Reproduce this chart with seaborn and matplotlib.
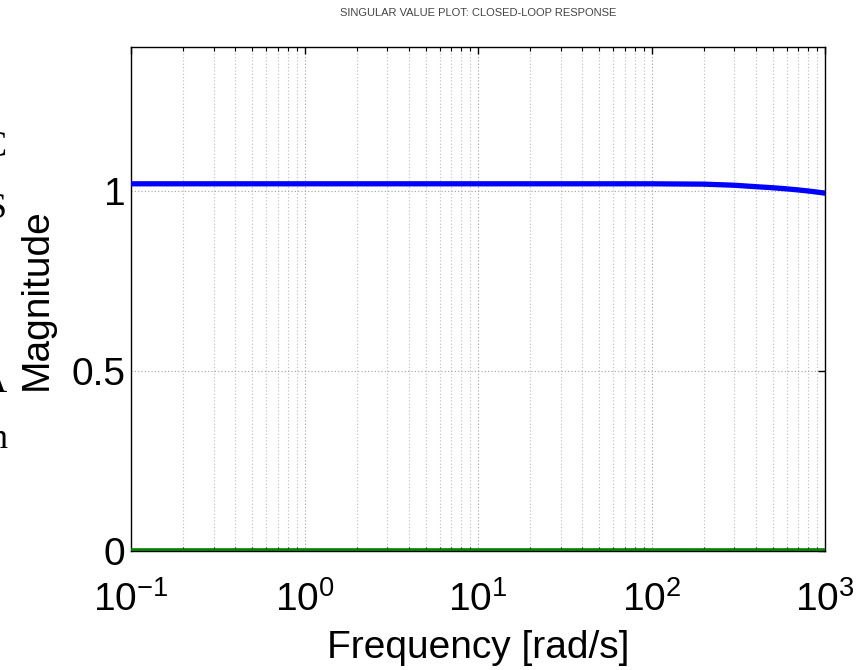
import numpy as np
import pandas as pd
import matplotlib
matplotlib.use("Agg")
import matplotlib.pyplot as plt
import matplotlib.ticker as mticker
import seaborn as sns

# ---- data ----
freq_sv1 = [0.1, 1, 10, 100, 200, 300, 400, 500, 600, 700, 800, 900, 1000]
mag_sv1 = [1.02, 1.02, 1.02, 1.02, 1.019, 1.016, 1.012, 1.009, 1.006, 1.003, 1.0, 0.997, 0.994]
freq_sv2 = [0.1, 1, 10, 100, 1000]
mag_sv2 = [0.004, 0.004, 0.004, 0.004, 0.004]
x_ticks = [0.1, 1, 10, 100, 1000]
y_ticks = [0, 0.5, 1]
y_tick_labels = ["0", "0.5", "1"]
title_text = "SINGULAR VALUE PLOT: CLOSED-LOOP RESPONSE"
x_label = "Frequency [rad/s]"
y_label = "Magnitude"
side_fragments = ["C", "S", "A", "n"]

sns.set_style("white")
plt.rcParams["font.family"] = ["Liberation Sans", "DejaVu Sans"]
plt.rcParams["mathtext.fontset"] = "custom"
plt.rcParams["mathtext.rm"] = "Liberation Sans"
plt.rcParams["mathtext.it"] = "Liberation Sans"
plt.rcParams["mathtext.default"] = "regular"
plt.rcParams["text.color"] = "black"
plt.rcParams["axes.labelcolor"] = "black"
plt.rcParams["xtick.color"] = "black"
plt.rcParams["ytick.color"] = "black"

fig = plt.figure(figsize=(8.68, 6.70), dpi=100)
ax = fig.add_axes([131 / 868, 1 - 551 / 670, (825 - 131) / 868, (551 - 47) / 670])

df1 = pd.DataFrame({"f": freq_sv1, "m": mag_sv1})
df2 = pd.DataFrame({"f": freq_sv2, "m": mag_sv2})
sns.lineplot(data=df1, x="f", y="m", ax=ax, color="#0000ff", linewidth=3.8, estimator=None, zorder=3)
sns.lineplot(data=df2, x="f", y="m", ax=ax, color="#008000", linewidth=2.6, estimator=None, zorder=3)

ax.set_xscale("log")
ax.set_xlim(0.1, 1000)
ax.set_ylim(0, 1.4)
ax.set_xticks(x_ticks)
ax.xaxis.set_major_formatter(mticker.LogFormatterMathtext())
ax.xaxis.set_minor_locator(mticker.LogLocator(base=10, subs=np.arange(2, 10), numticks=20))
ax.xaxis.set_minor_formatter(mticker.NullFormatter())
ax.set_yticks(y_ticks)
ax.set_yticklabels(y_tick_labels)

ax.grid(True, which="major", axis="both", linestyle=(0, (1, 2)), color="#a0a0a0", linewidth=0.8)
ax.grid(True, which="minor", axis="x", linestyle=(0, (1, 2)), color="#bbbbbb", linewidth=0.8)
ax.set_axisbelow(True)

ax.tick_params(axis="both", which="major", direction="in", length=5, width=1,
               top=True, right=True, labelsize=28, colors="black")
ax.tick_params(axis="x", which="major", pad=22)
ax.tick_params(axis="y", which="major", pad=4)
ax.tick_params(axis="x", which="minor", direction="in", length=3, width=0.8, top=True, bottom=True)

for sp in ax.spines.values():
    sp.set_visible(True)
    sp.set_color("black")
    sp.set_linewidth(1.0)

ax.set_xlabel(x_label, fontsize=28, labelpad=8)
ax.set_ylabel(y_label, fontsize=28, labelpad=12)
ax.set_title(title_text, fontsize=8, color="#444444", pad=22)

# partially visible slide text at the left edge
frag_y = [148, 210, 383, 440]
for ch, yy in zip(side_fragments, frag_y):
    fig.text(0.008, 1 - yy / 670, ch, ha="right", va="center", fontsize=26,
             family=["Liberation Serif", "DejaVu Serif"], color="black")

fig.savefig("out.png", dpi=100, facecolor="white")
